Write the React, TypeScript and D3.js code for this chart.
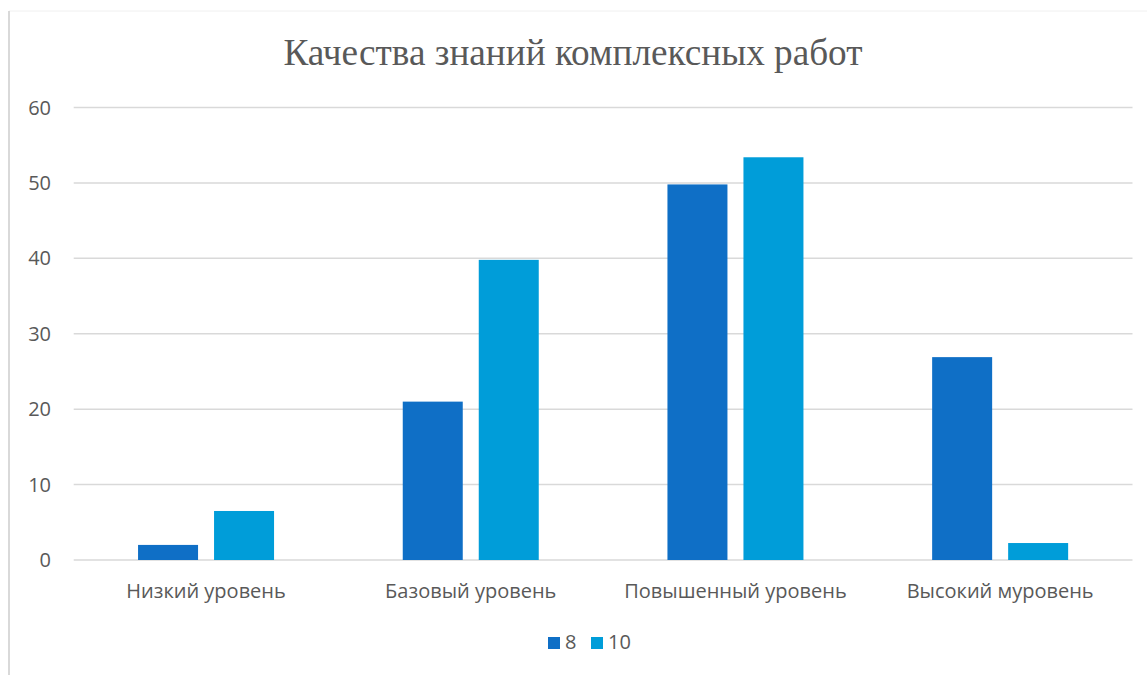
import React from "react";
import * as d3 from "d3";

const categories = ["Низкий уровень", "Базовый уровень", "Повышенный уровень", "Высокий муровень"];
const seriesNames = ["8", "10"];
const series8 = [2, 21, 49.8, 26.9];
const series10 = [6.5, 39.8, 53.4, 2.25];
const yTicks = [0, 10, 20, 30, 40, 50, 60];
const title = "Качества знаний комплексных работ";

const colors = ["#0F6FC6", "#009DD9"];

export default function App() {
  const W = 1147, H = 675;
  const left = 73.7, right = 1132.5, top = 107.5, bottom = 560;
  const x0 = d3.scaleBand<string>().domain(categories).range([left, right]).padding(0);
  const groupW = 136;
  const x1 = d3.scaleBand<string>().domain(seriesNames).range([0, groupW]).paddingInner(16 / 76).paddingOuter(0);
  const y = d3.scaleLinear().domain([0, 60]).range([bottom, top]);
  const data = [series8, series10];
  const textColor = "#595959";
  const font = "'Open Sans', 'Noto Sans', sans-serif";

  return (
    <svg width={W} height={H} style={{ position: "absolute", left: 0, top: 0, background: "#fff" }}>
      <rect x={0} y={0} width={W} height={H} fill="#fff" />
      <line x1={9} y1={11} x2={W} y2={11} stroke="#f0f0f0" strokeWidth={1} />
      <line x1={9} y1={11} x2={9} y2={H} stroke="#d9d9d9" strokeWidth={2} />
      <text x={573} y={65} textAnchor="middle" fontFamily="'Liberation Serif', 'Times New Roman', serif" fontSize={38} fill={textColor} textLength={579} lengthAdjust="spacingAndGlyphs">{title}</text>
      {yTicks.map((t) => (
        <g key={t}>
          <line x1={left} x2={right} y1={y(t)} y2={y(t)} stroke="#d9d9d9" strokeWidth={1.5} />
          <text x={51} y={y(t)} dy="0.35em" textAnchor="end" fontFamily={font} fontSize={20} fill={textColor}>{t}</text>
        </g>
      ))}
      {categories.map((c, i) => (
        <g key={c} transform={`translate(${x0(c)! + (x0.bandwidth() - groupW) / 2},0)`}>
          {seriesNames.map((s, j) => (
            <rect key={s} x={x1(s)!} width={x1.bandwidth()} y={y(data[j][i])} height={y(0) - y(data[j][i])} fill={colors[j]} />
          ))}
        </g>
      ))}
      {categories.map((c) => (
        <text key={c} x={x0(c)! + x0.bandwidth() / 2} y={598} textAnchor="middle" fontFamily={font} fontSize={20} fill={textColor}>{c}</text>
      ))}
      <g>
        <rect x={548} y={637} width={12} height={12} fill={colors[0]} />
        <text x={565} y={649} fontFamily={font} fontSize={20} fill={textColor}>{seriesNames[0]}</text>
        <rect x={591} y={637} width={12} height={12} fill={colors[1]} />
        <text x={608} y={649} fontFamily={font} fontSize={20} fill={textColor}>{seriesNames[1]}</text>
      </g>
    </svg>
  );
}
